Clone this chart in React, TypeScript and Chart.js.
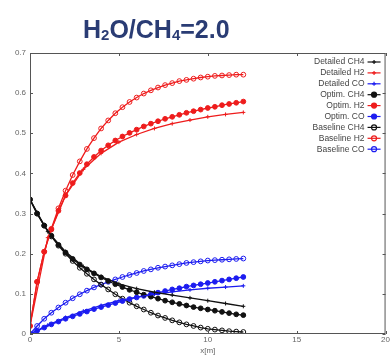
import React, { useEffect, useRef } from "react";
import { Chart, registerables } from "chart.js";

Chart.register(...registerables);

const X_FINE = [0, 0.4, 0.8, 1.2, 1.6, 2.0, 2.4, 2.8, 3.2, 3.6, 4.0, 4.4, 4.8, 5.2, 5.6, 6.0, 6.4, 6.8, 7.2, 7.6, 8.0, 8.4, 8.8, 9.2, 9.6, 10.0, 10.4, 10.8, 11.2, 11.6, 12.0];
const X_DET = [0, 1, 2, 3, 4, 5, 6, 7, 8, 9, 10, 11, 12];

const detailedCH4 = [0.335, 0.255, 0.205, 0.168, 0.143, 0.125, 0.113, 0.104, 0.097, 0.09, 0.083, 0.076, 0.069];
const detailedH2 = [0.02, 0.24, 0.345, 0.41, 0.45, 0.478, 0.497, 0.512, 0.524, 0.533, 0.541, 0.547, 0.552];
const detailedCO = [0, 0.022, 0.041, 0.057, 0.071, 0.083, 0.092, 0.099, 0.105, 0.11, 0.114, 0.117, 0.12];

const optimCH4 = [0.335, 0.3, 0.27, 0.245, 0.222, 0.203, 0.187, 0.173, 0.161, 0.151, 0.141, 0.132, 0.124, 0.117, 0.11, 0.104, 0.098, 0.093, 0.088, 0.083, 0.079, 0.075, 0.071, 0.067, 0.064, 0.061, 0.058, 0.055, 0.052, 0.049, 0.047];
const optimH2 = [0.02, 0.13, 0.205, 0.26, 0.307, 0.345, 0.376, 0.401, 0.423, 0.441, 0.457, 0.47, 0.482, 0.492, 0.501, 0.509, 0.517, 0.524, 0.53, 0.536, 0.541, 0.546, 0.551, 0.555, 0.559, 0.563, 0.566, 0.57, 0.573, 0.576, 0.579];
const optimCO = [0, 0.008, 0.016, 0.024, 0.031, 0.038, 0.044, 0.05, 0.056, 0.062, 0.067, 0.072, 0.077, 0.082, 0.087, 0.091, 0.095, 0.099, 0.103, 0.107, 0.111, 0.114, 0.118, 0.121, 0.124, 0.127, 0.13, 0.133, 0.136, 0.139, 0.142];

const baselineCH4 = [0.335, 0.3, 0.27, 0.243, 0.22, 0.2, 0.182, 0.165, 0.15, 0.136, 0.123, 0.111, 0.099, 0.088, 0.078, 0.069, 0.061, 0.053, 0.046, 0.04, 0.034, 0.029, 0.024, 0.02, 0.016, 0.013, 0.011, 0.009, 0.007, 0.006, 0.005];
const baselineH2 = [0.02, 0.13, 0.205, 0.262, 0.313, 0.357, 0.396, 0.43, 0.461, 0.488, 0.512, 0.532, 0.55, 0.565, 0.578, 0.589, 0.599, 0.607, 0.614, 0.62, 0.625, 0.63, 0.633, 0.636, 0.639, 0.641, 0.643, 0.644, 0.645, 0.646, 0.646];
const baselineCO = [0, 0.02, 0.038, 0.053, 0.066, 0.078, 0.089, 0.099, 0.108, 0.116, 0.123, 0.13, 0.136, 0.142, 0.147, 0.152, 0.157, 0.161, 0.165, 0.168, 0.171, 0.174, 0.177, 0.179, 0.181, 0.183, 0.184, 0.185, 0.186, 0.187, 0.188];

const LABELS = ["Detailed CH4", "Detailed H2", "Detailed CO", "Optim. CH4", "Optim. H2", "Optim. CO", "Baseline CH4", "Baseline H2", "Baseline CO"];
const X_TICKS = [0, 5, 10, 15, 20];
const Y_TICKS = [0, 0.1, 0.2, 0.3, 0.4, 0.5, 0.6, 0.7];

const BLACK = "#111111";
const RED = "#ee1c1c";
const BLUE = "#1c1cf0";

const pts = (xs: number[], ys: number[]) => xs.map((x, i) => ({ x, y: ys[i] }));

const frameLegendPlugin = {
  id: "frameLegend",
  afterDraw(chart: any) {
    const { ctx, chartArea } = chart;
    const { left, right, top, bottom } = chartArea;
    ctx.save();
    ctx.strokeStyle = "#555";
    ctx.lineWidth = 1;
    ctx.strokeRect(left + 0.5, top + 0.5, right - left - 1, bottom - top - 1);
    const xs = chart.scales.x;
    const ys = chart.scales.y;
    ctx.beginPath();
    X_TICKS.forEach((v) => {
      const px = Math.round(xs.getPixelForValue(v)) + 0.5;
      ctx.moveTo(px, bottom);
      ctx.lineTo(px, bottom - 3);
      ctx.moveTo(px, top);
      ctx.lineTo(px, top + 3);
    });
    Y_TICKS.forEach((v) => {
      const py = Math.round(ys.getPixelForValue(v)) + 0.5;
      ctx.moveTo(left, py);
      ctx.lineTo(left + 3, py);
      ctx.moveTo(right, py);
      ctx.lineTo(right - 3, py);
    });
    ctx.stroke();

    ctx.font = "8.5px 'Liberation Sans', Arial, sans-serif";
    ctx.textAlign = "right";
    ctx.textBaseline = "middle";
    chart.data.datasets.forEach((ds: any, i: number) => {
      const y = top + 9 + i * 10.9;
      ctx.fillStyle = "#444";
      ctx.fillText(ds.label, right - 21, y);
      const x0 = right - 18;
      const x1 = right - 5;
      const xm = (x0 + x1) / 2;
      ctx.strokeStyle = ds.borderColor;
      ctx.lineWidth = 1.2;
      ctx.beginPath();
      ctx.moveTo(x0, y);
      ctx.lineTo(x1, y);
      ctx.stroke();
      if (ds.pointStyle === "cross") {
        ctx.beginPath();
        ctx.moveTo(xm - 2, y);
        ctx.lineTo(xm + 2, y);
        ctx.moveTo(xm, y - 2);
        ctx.lineTo(xm, y + 2);
        ctx.stroke();
      } else {
        ctx.beginPath();
        ctx.arc(xm, y, 2.5, 0, Math.PI * 2);
        if (ds.pointBackgroundColor && ds.pointBackgroundColor !== "transparent") {
          ctx.fillStyle = ds.pointBackgroundColor;
          ctx.fill();
        }
        ctx.stroke();
      }
    });
    ctx.restore();
  },
};

export default function App() {
  const ref = useRef<HTMLCanvasElement | null>(null);

  useEffect(() => {
    if (!ref.current) return;
    const mk = (label: string, xs: number[], ys: number[], color: string, kind: string) => {
      const base: any = {
        label,
        data: pts(xs, ys),
        borderColor: color,
        borderWidth: 1.3,
        tension: 0,
      };
      if (kind === "det") {
        base.pointStyle = "cross";
        base.pointRadius = 2;
        base.pointBorderWidth = 1;
        base.pointBackgroundColor = color;
        base.pointBorderColor = color;
      } else if (kind === "opt") {
        base.pointStyle = "circle";
        base.pointRadius = 2.4;
        base.pointBorderWidth = 1;
        base.pointBackgroundColor = color;
        base.pointBorderColor = color;
      } else {
        base.pointStyle = "circle";
        base.pointRadius = 2.4;
        base.pointBorderWidth = 1;
        base.pointBackgroundColor = "transparent";
        base.pointBorderColor = color;
      }
      return base;
    };
    const datasets = [
      mk(LABELS[0], X_DET, detailedCH4, BLACK, "det"),
      mk(LABELS[1], X_DET, detailedH2, RED, "det"),
      mk(LABELS[2], X_DET, detailedCO, BLUE, "det"),
      mk(LABELS[3], X_FINE, optimCH4, BLACK, "opt"),
      mk(LABELS[4], X_FINE, optimH2, RED, "opt"),
      mk(LABELS[5], X_FINE, optimCO, BLUE, "opt"),
      mk(LABELS[6], X_FINE, baselineCH4, BLACK, "base"),
      mk(LABELS[7], X_FINE, baselineH2, RED, "base"),
      mk(LABELS[8], X_FINE, baselineCO, BLUE, "base"),
    ];
    const tickFont = { family: "'Liberation Sans', Arial, sans-serif", size: 8 };
    const chart = new Chart(ref.current, {
      type: "line",
      data: { datasets },
      options: {
        animation: false,
        responsive: false,
        maintainAspectRatio: false,
        layout: { padding: { top: 53, right: 5, left: 0, bottom: 0 } },
        plugins: { legend: { display: false }, tooltip: { enabled: false }, title: { display: false } },
        scales: {
          x: {
            type: "linear",
            min: 0,
            max: 20,
            afterBuildTicks: (s: any) => {
              s.ticks = X_TICKS.map((v) => ({ value: v }));
            },
            ticks: { color: "#666", font: tickFont, padding: 1, maxRotation: 0 },
            grid: { display: false, drawTicks: false },
            border: { display: false },
            title: { display: true, text: "x[m]", color: "#666", font: tickFont, padding: 0 },
            afterFit: (s: any) => {
              s.height = 22;
            },
          },
          y: {
            type: "linear",
            min: 0,
            max: 0.7,
            afterBuildTicks: (s: any) => {
              s.ticks = Y_TICKS.map((v) => ({ value: v }));
            },
            ticks: {
              color: "#666",
              font: tickFont,
              padding: 4,
              callback: (v: any) => String(Math.round(Number(v) * 10) / 10),
            },
            grid: { display: false, drawTicks: false },
            border: { display: false },
            afterFit: (s: any) => {
              s.width = 30;
            },
          },
        },
      },
      plugins: [frameLegendPlugin],
    });
    return () => chart.destroy();
  }, []);

  return (
    <div style={{ position: "fixed", left: 0, top: 0, width: 391, height: 356, background: "#fff" }}>
      <canvas ref={ref} width={391} height={356} style={{ position: "absolute", left: 0, top: 0 }} />
      <div
        style={{
          position: "absolute",
          left: 83,
          top: 14,
          fontFamily: "'Liberation Sans', Arial, sans-serif",
          fontWeight: "bold",
          fontSize: 25,
          color: "#2a3c74",
          whiteSpace: "nowrap",
          lineHeight: "30px",
        }}
      >
        H<sub style={{ fontSize: 15, verticalAlign: "-2px" }}>2</sub>O/CH<sub style={{ fontSize: 15, verticalAlign: "-2px" }}>4</sub>=2.0
      </div>
    </div>
  );
}
